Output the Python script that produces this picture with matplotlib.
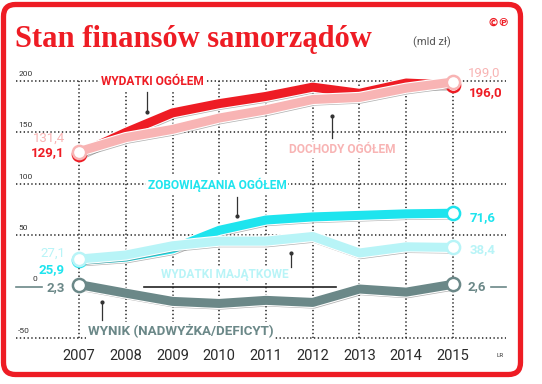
import matplotlib
matplotlib.use('Agg')
import matplotlib.pyplot as plt
import matplotlib.patheffects as pe
from matplotlib.patches import FancyBboxPatch
from matplotlib.transforms import IdentityTransform

# dane (mld zł)
years = [2007, 2008, 2009, 2010, 2011, 2012, 2013, 2014, 2015]
wydatki = [129.1, 150, 169, 178, 185, 194, 188, 198, 196.0]
dochody = [131.4, 145, 153, 164, 172, 182, 184, 193, 199.0]
zobowiazania = [25.9, 29, 37, 55, 65, 68, 69.5, 71, 71.6]
majatkowe = [27.1, 31, 40, 44.5, 44.5, 49, 33, 39, 38.4]
wynik = [2.3, -6, -14, -16, -13, -15, -2, -5, 2.6]

y_ticks = [200, 150, 100, 50, -50]

RED = '#ee1c24'
PINK = '#f8b4b4'
CYAN = '#1ee4ee'
LCYAN = '#b8f4f7'
GRAY = '#6b8888'
INK = '#333333'

plt.rcParams['font.family'] = ['Roboto', 'DejaVu Sans']

fig = plt.figure(figsize=(5.42, 3.84), dpi=100)
ax = fig.add_axes([0, 0, 1, 1])
ax.set_xlim(2005.31, 2016.904)
ax.set_ylim(-94.2, 278.6)
ax.axis('off')

# siatka (kropkowana)
dots = (0, (0.9, 1.6))
for t in y_ticks:
    ax.plot([2005.65, 2016.13], [t, t], color='#222222', lw=1.1, ls=dots, zorder=1)
    ax.text(2005.70, t + 7, str(t), fontsize=6, color=INK, ha='left', va='center')
for yr in years:
    ax.plot([yr, yr], [-50, 200], color='#222222', lw=1.1, ls=dots, zorder=1)
ax.text(2006.05, 8, '0', fontsize=6, color=INK, ha='center', va='center')
ax.plot([2008.4, 2012.5], [0, 0], color='#222222', lw=1.2, zorder=1.5)
ax.plot([2005.65, 2006.2], [0, 0], color=GRAY, lw=1.2, zorder=1.5)
ax.plot([2015.82, 2016.13], [0, 0], color=GRAY, lw=1.2, zorder=1.5)


def draw(vals, color, z, lw=6.5):
    effects = [pe.SimpleLineShadow(offset=(0.8, -1.2), shadow_color='#555555', alpha=0.45),
               pe.Stroke(linewidth=lw + 1.6, foreground='white'), pe.Normal()]
    ax.plot(years, vals, color=color, lw=lw, solid_capstyle='round',
            solid_joinstyle='round', zorder=z, path_effects=effects)
    ax.plot([years[0], years[-1]], [vals[0], vals[-1]], 'o', ms=9.5,
            mfc='white', mec=color, mew=1.8, zorder=z + 0.1)


draw(wydatki, RED, 3)
draw(dochody, PINK, 4)
draw(zobowiazania, CYAN, 3)
draw(majatkowe, LCYAN, 4)
draw(wynik, GRAY, 3)


# wskazniki
def pointer(x, y0, y1):
    ax.plot([x, x], [y0, y1], color=INK, lw=0.9, zorder=2)
    ax.plot([x], [y1], 'o', ms=2, color=INK, zorder=2)


pointer(2008.45, 189, 170)
pointer(2012.41, 145, 166)
pointer(2010.38, 87, 69)
pointer(2011.53, 19, 33)
pointer(2007.49, -32, -15)

box = dict(facecolor='white', edgecolor='none', pad=1.2)
lab = dict(fontsize=8.6, fontweight='bold', ha='center', va='center', zorder=6, bbox=box)
ax.text(2008.56, 199, 'WYDATKI OGÓŁEM', color=RED, **lab)
ax.text(2012.64, 133, 'DOCHODY OGÓŁEM', color=PINK, **lab)
ax.text(2009.95, 99, 'ZOBOWIĄZANIA OGÓŁEM', color=CYAN, **lab)
ax.text(2010.12, 12, 'WYDATKI MAJĄTKOWE', color=LCYAN, **lab)
ax.text(2009.17, -42.5, 'WYNIK (NADWYŻKA/DEFICYT)', color=GRAY,
        fontsize=9.6, fontweight='bold', ha='center', va='center', zorder=6, bbox=box)


# wartosci
def val(x, y, s, color, ha, bold=True):
    ax.text(x, y, s, color=color, fontsize=9.5, ha=ha, va='center',
            fontweight='bold' if bold else 'normal', zorder=6)


val(2006.70, 144.5, '131,4', PINK, 'right', bold=False)
val(2006.70, 130, '129,1', RED, 'right')
val(2006.70, 33, '27,1', LCYAN, 'right', bold=False)
val(2006.70, 16.5, '25,9', CYAN, 'right')
val(2006.70, -1, '2,3', GRAY, 'right')
val(2015.33, 207.5, '199,0', PINK, 'left', bold=False)
val(2015.33, 189, '196,0', RED, 'left')
val(2015.35, 67, '71,6', CYAN, 'left')
val(2015.35, 36, '38,4', LCYAN, 'left')
val(2015.30, 0, '2,6', GRAY, 'left')

for yr in years:
    ax.text(yr, -67, str(yr), fontsize=10.5, color='#2a2a2a', ha='center', va='center')
ax.text(2016.0, -67, 'LR', fontsize=4.5, color=INK, ha='center', va='center')

# tytul i ramka
fig.text(15 / 542, 1 - 47 / 384, 'Stan finansów samorządów', color=RED,
         fontsize=22, fontweight='bold', family='Liberation Serif', va='baseline')
fig.text(432 / 542, 1 - 42 / 384, '(mld zł)', color='#555555', fontsize=8,
         ha='center', va='center')
fig.text(499 / 542, 1 - 23 / 384, '©℗', color=RED, fontsize=8, fontweight='bold',
         ha='center', va='center', family=['DejaVu Sans'])

frame = FancyBboxPatch((3.5, 9.5), 517, 370, boxstyle='round,pad=0,rounding_size=12',
                       transform=IdentityTransform(), facecolor='none',
                       edgecolor=RED, lw=3.8)
fig.add_artist(frame)

fig.savefig('out.png', dpi=100)
